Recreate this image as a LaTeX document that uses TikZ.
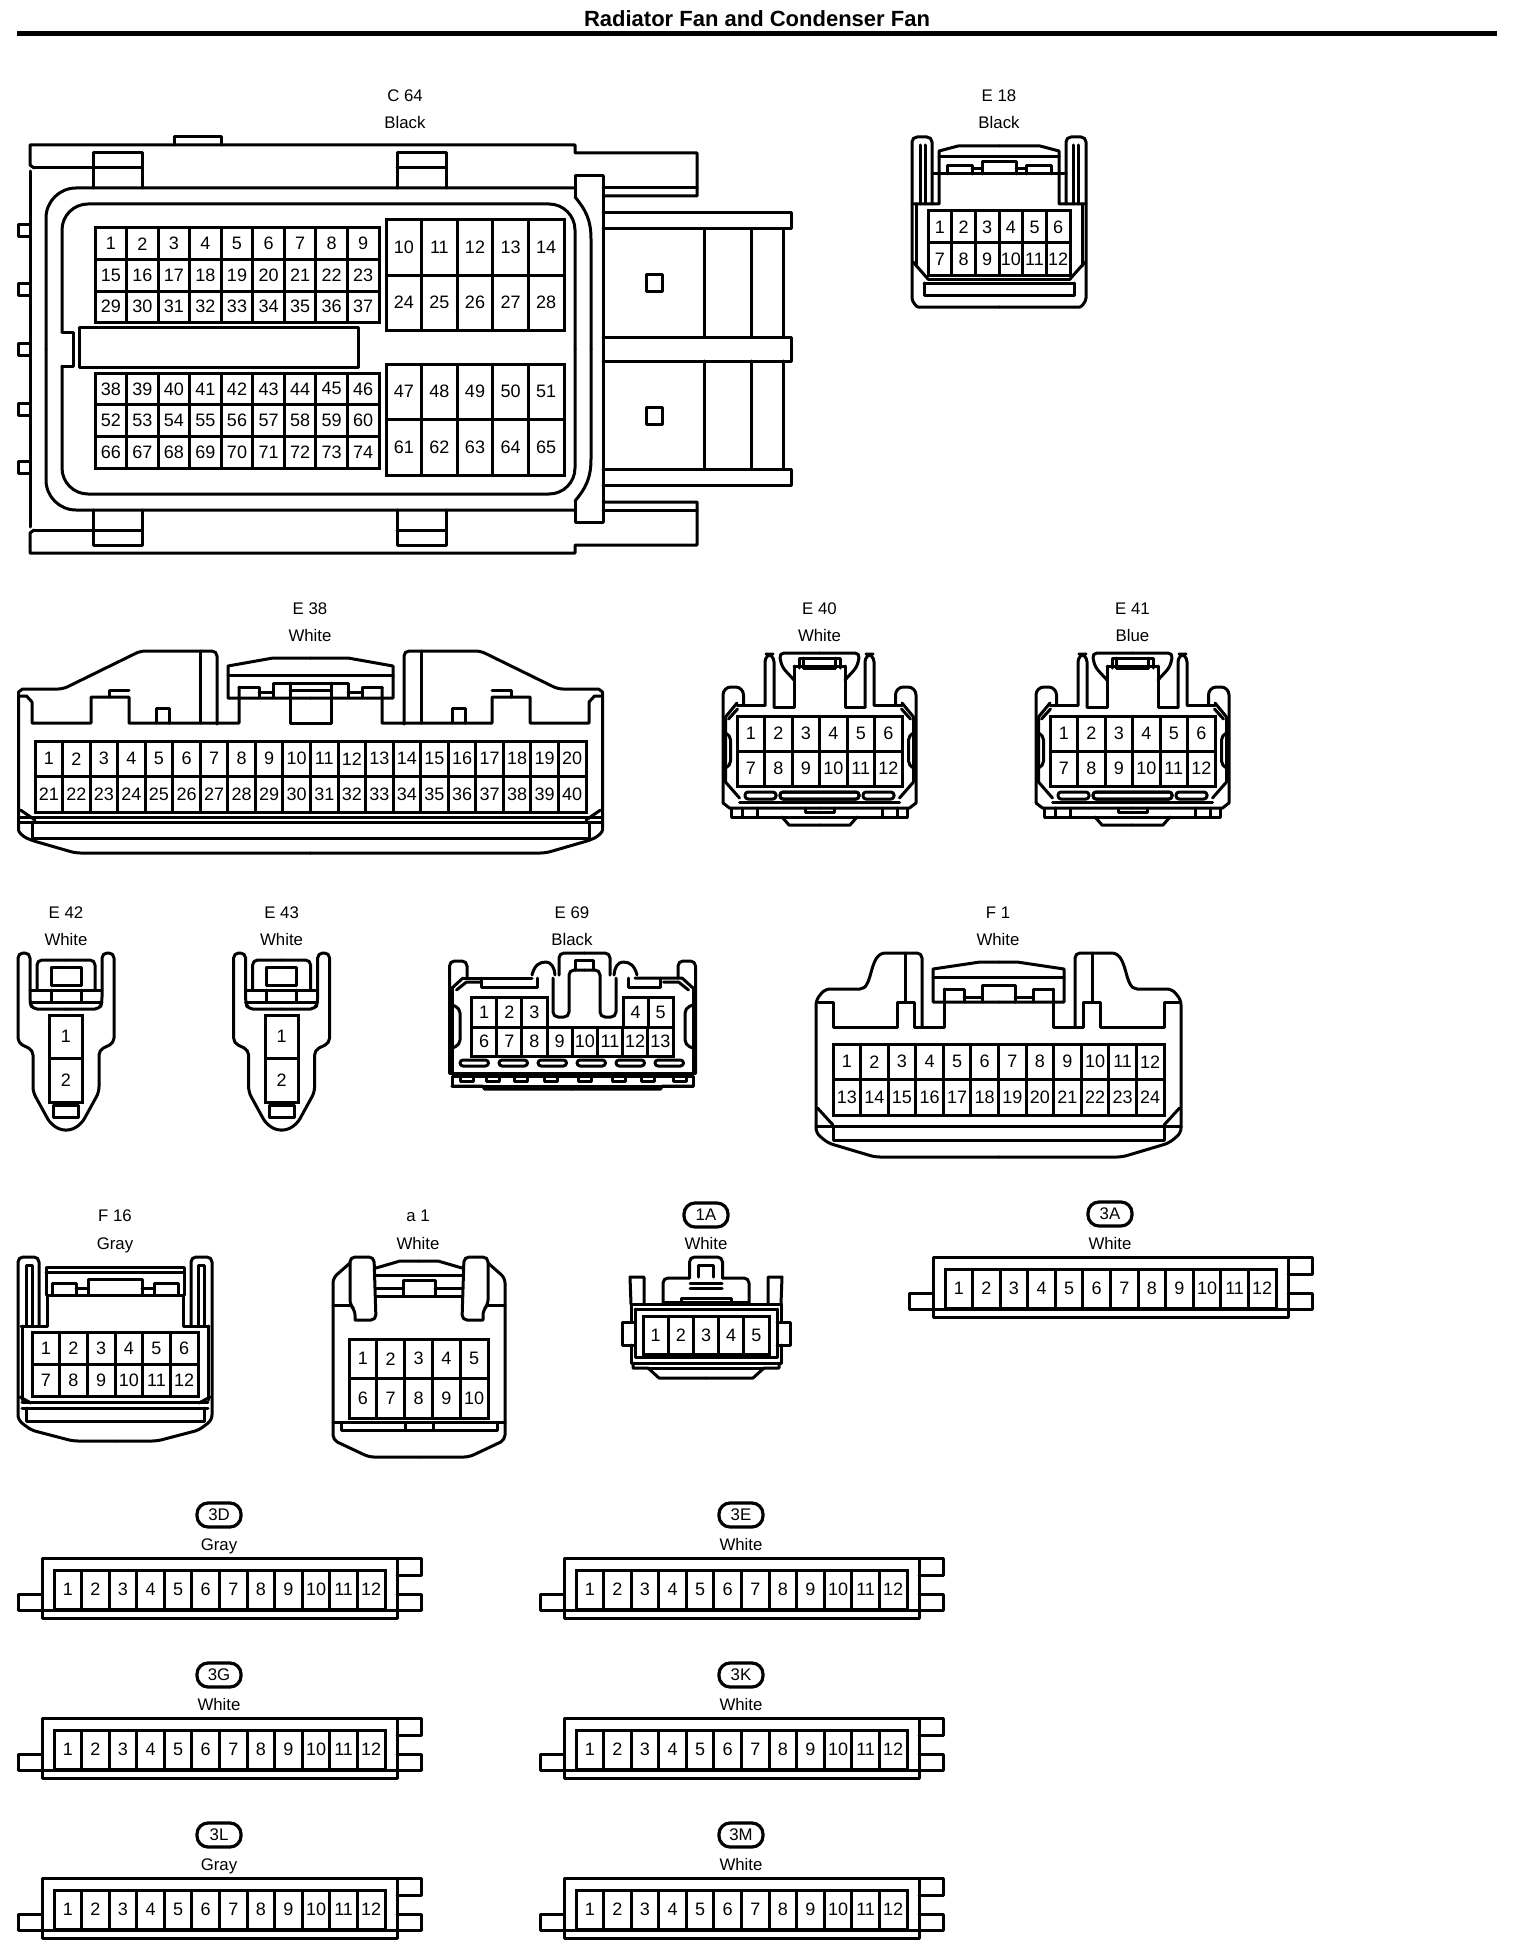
\documentclass[tikz,border=0pt]{standalone}
\usepackage{fontspec}
\setmainfont{Liberation Sans}
\tikzset{
    conn/.style={line width=1.5pt, line join=round, line cap=round},
    soft/.style={conn, rounded corners=2.5pt},
    pinline/.style={line width=1.5pt},
    pinnum/.style={inner sep=0pt, font=\fontsize{9}{11}\selectfont},
    conntext/.style={inner sep=0pt, text height=6.2pt, text depth=0pt, font=\fontsize{8.4}{10}\selectfont},
    tagoval/.style={draw, line width=1.6pt, rounded corners=5.5pt, inner sep=0pt, minimum width=22pt, minimum height=12pt, font=\fontsize{8.4}{10}\selectfont},
    slotbox/.style={conn, rounded corners=1.5pt}
}
% x0 y0 x1 y1 cols rows first rowstep prefix
\newcommand{\pingrid}[9]{%
    \pgfmathsetmacro{\cellw}{(#3-#1)/#5}%
    \pgfmathsetmacro{\cellh}{(#4-#2)/#6}%
    \foreach \cc in {1,...,#5}{%
        \foreach \rr in {1,...,#6}{%
            \pgfmathtruncatemacro{\pinno}{#7+(\rr-1)*#8+\cc-1}%
            \draw[pinline] ({#1+(\cc-1)*\cellw},{#2+(\rr-1)*\cellh}) rectangle ({#1+\cc*\cellw},{#2+\rr*\cellh});
            \node[pinnum] (#9-\pinno) at ({#1+(\cc-.5)*\cellw},{#2+(\rr-.5)*\cellh}) {\pinno};
        }%
    }%
}
\begin{document}
\begin{tikzpicture}[x=0.5pt,y=-0.5pt]
    \useasboundingbox (0,0) rectangle (1520,1958);
    % Title
    \node[inner sep=0pt, font=\fontsize{11}{13}\selectfont\bfseries] (title) at (757,19) {Radiator Fan and Condenser Fan};
    \draw[line width=2.5pt] (17,34) -- (1497,34);

    % C 64
    \node[conntext] (c64-name) at (405,95) {C 64};
    \node[conntext] (c64-color) at (405,122) {Black};
    \foreach \m in {1,-1}{
        \begin{scope}[shift={(0,349)},yscale=\m]
            \draw[conn] (34,-181) -- (30,-184) -- (30,-204) -- (575,-204) -- (575,-196) -- (697,-196) -- (697,-153) -- (603,-153);
            \draw[conn] (30,-178) -- (30,0);
            \draw[conn] (34,-181) -- (93,-181);
            \draw[conn] (603,-161) -- (697,-161);
            \draw[conn] (93,-161) -- (93,-196) -- (142,-196) -- (142,-161);
            \draw[conn] (93,-181) -- (142,-181);
            \draw[conn] (397,-161) -- (397,-196) -- (446,-196) -- (446,-161);
            \draw[conn] (397,-181) -- (446,-181);
            % post and housing
            \draw[conn] (603,-173) -- (575,-173) -- (575,-152);
            \draw[conn] (603,-173) -- (603,0);
            \draw[conn, rounded corners=15pt] (46,0) -- (46,-161) -- (575,-161);
            \draw[conn] (575,-152) .. controls (585,-140) and (591,-130) .. (591,-110) -- (591,0);
            \draw[conn, rounded corners=13pt] (62,-17) -- (62,-145) -- (575,-145) -- (575,0);
            \draw[conn] (62,-17) -- (73,-17) -- (73,0);
            % slide arms
            \draw[conn] (603,-136) -- (791,-136) -- (791,-120) -- (603,-120);
            \draw[conn] (603,-12) -- (791,-12) -- (791,0);
            \foreach \x in {704,751.5,783}{
                \draw[conn] (\x,-120) -- (\x,-12);
            }
            \draw[conn] (646,-75) rectangle (662,-58);
            % pegs
            \draw[conn] (30,-124) -- (18,-124) -- (18,-112) -- (30,-112);
            \draw[conn] (30,-66) -- (18,-66) -- (18,-54) -- (30,-54);
            \draw[conn] (30,-6) -- (18,-6) -- (18,0);
        \end{scope}
    }
    \draw[conn] (174,145) -- (174,137) -- (221,137) -- (221,145);
    \draw[conn] (79.5,327) rectangle (358,367);
    \pingrid{95}{228}{379}{322.5}{9}{3}{1}{14}{c64}
    \pingrid{386}{220}{564}{330}{5}{2}{10}{14}{c64}
    \pingrid{95}{373}{379}{468}{9}{3}{38}{14}{c64}
    \pingrid{386}{364}{564}{475}{5}{2}{47}{14}{c64}

    % E 18
    \node[conntext] (e18-name) at (999,95) {E 18};
    \node[conntext] (e18-color) at (999,122) {Black};
    \foreach \m in {1,-1}{
        \begin{scope}[shift={(999,0)},xscale=\m]
            \draw[soft] (-67,204) -- (-67,137) -- (-87,137) -- (-87,293) .. controls (-87,302) and (-82,307) .. (-76,307) -- (0,307);
            \draw[conn] (-79,145) -- (-79,204);
            \draw[conn] (-74,145) -- (-74,204);
            \draw[conn] (-83,204) -- (-83,266);
            \draw[conn] (-87,204) -- (-60,204) -- (-60,151) -- (-41,146) -- (0,146);
            \draw[conn] (-60,157) -- (0,157);
            \draw[conn] (-67,174) -- (0,174);
            \draw[conn] (-52,174) -- (-52,166) -- (-27,166) -- (-27,174);
            \draw[conn] (-17,174) -- (-17,162) -- (0,162);
            \draw[conn] (-27,169) -- (-17,169);
            \draw[conn] (-71,279) -- (0,279);
            \draw[conn] (-75,283) -- (-75,295) -- (0,295);
            \draw[conn] (-75,283) -- (0,283);
            \draw[conn] (-86,262) -- (-71,279);
        \end{scope}
    }
    \pingrid{928}{211}{1070}{275}{6}{2}{1}{6}{e18}

    % E 38
    \node[conntext] (e38-name) at (310,608) {E 38};
    \node[conntext] (e38-color) at (310,635) {White};
    \foreach \m in {1,-1}{
        \begin{scope}[shift={(310.5,0)},xscale=\m]
            \draw[soft] (0,853) -- (-235,853) -- (-280,840) .. controls (-288,836) and (-292,832) .. (-292,825) -- (-292,697) .. controls (-292,692) and (-288,689) .. (-283,689) -- (-247.5,689) -- (-170,651) -- (-93.5,651) -- (-93.5,724);
            \draw[conn] (-110.5,651) -- (-110.5,723);
            \draw[conn] (-290,696) -- (-284,696) -- (-278.5,702) -- (-278.5,723) -- (-219.5,723) -- (-219.5,697) -- (-181.5,697) -- (-181.5,723) -- (-71.5,723) -- (-71.5,687);
            \draw[conn] (-201,697) -- (-201,690) -- (-181.5,690);
            \draw[conn] (-154.5,723) -- (-154.5,708) -- (-141.5,708) -- (-141.5,723);
            % latch
            \draw[conn] (0,658) -- (-37.5,658) -- (-82.5,666) -- (-82.5,698) -- (0,698);
            \draw[conn] (-82.5,675) -- (0,675);
            \draw[conn] (-71.5,687) -- (-51.5,687) -- (-51.5,697);
            \draw[conn] (-37.5,697) -- (-37.5,683) -- (0,683);
            \draw[conn] (-51.5,692) -- (-37.5,692);
            \draw[conn] (-20.5,683) -- (-20.5,723) -- (0,723);
            \draw[conn] (-20.5,690) -- (0,690);
            % lower edge
            \draw[conn] (-292,817) -- (0,817);
            \draw[conn] (-292,822) -- (0,822);
            \draw[conn] (-278.5,822) -- (-278.5,838) -- (0,838);
            \draw[conn] (-290,810) -- (-275.5,820);
        \end{scope}
    }
    \pingrid{35}{741}{586}{812}{20}{2}{1}{20}{e38}

    % E 40, E 41
    \foreach \xc/\nm/\colname/\pref in {819.5/E 40/White/e40, 1132.5/E 41/Blue/e41}{
        \begin{scope}[shift={(\xc,0)}]
            \node[conntext] (\pref-name) at (0,608) {\nm};
            \node[conntext] (\pref-color) at (0,635) {\colname};
            \foreach \m in {1,-1}{
                \begin{scope}[xscale=\m]
                    \draw[soft] (0,653) -- (-40.5,653) -- (-37.5,667) -- (-25.5,680);
                    \draw[conn] (-25.5,666) -- (0,666);
                    \draw[conn] (-25.5,666) -- (-25.5,707) -- (-45.5,707);
                    \draw[conn, rounded corners=4pt] (-45.5,707) -- (-45.5,654) -- (-54.5,654) -- (-54.5,705);
                    \draw[conn] (-54.5,705) -- (-82.5,705);
                    \draw[conn] (-20.5,668) -- (-20.5,658) -- (0,658);
                    \draw[conn] (-16,658) -- (-16,668) -- (0,668);
                    \draw[conn, rounded corners=4pt] (-76,705) -- (-76,687) -- (-96.5,687) -- (-96.5,803);
                    \draw[conn] (-82.5,703) -- (-94,717) -- (-94,782) -- (-80,798);
                    \draw[conn] (-82,709) -- (-91,719);
                    \draw[soft] (-94,733) -- (-89,735) -- (-89,766) -- (-94,768);
                    \draw[slotbox] (-74.5,792) rectangle (-43.5,799);
                    \draw[slotbox] (-39.5,792) rectangle (39.5,799);
                    \draw[conn] (-80,802) -- (0,802);
                    \draw[conn] (-96.5,803) -- (-90,808) -- (0,808);
                    \draw[conn] (-88,808) -- (-88,817) -- (0,817);
                    \draw[conn] (-37.5,817) -- (-30.5,825) -- (0,825);
                    \foreach \x in {-77.5,-62.5}{
                        \draw[conn] (\x,808) -- (\x,817);
                    }
                    \draw[conn] (-14.5,808) -- (-14.5,812) -- (0,812);
                \end{scope}
            }
            \pingrid{-82.5}{716}{82.5}{786}{6}{2}{1}{6}{\pref}
        \end{scope}
    }

    % E 42, E 43
    \foreach \xc/\nm/\pref in {66/E 42/e42, 281.6/E 43/e43}{
        \begin{scope}[shift={(\xc,0)}]
            \node[conntext] (\pref-name) at (0,912) {\nm};
            \node[conntext] (\pref-color) at (0,939) {White};
            \foreach \m in {1,-1}{
                \begin{scope}[xscale=\m]
                    \draw[soft] (0,1130) -- (-6,1130) -- (-16,1123) -- (-33,1092) -- (-33,1050) -- (-48,1043) -- (-48,953) -- (-36,953) -- (-36,1002) -- (-34,1009) -- (0,1009);
                    \draw[conn] (-36,1002) -- (0,1002);
                    \draw[soft] (-29,990) -- (-29,960) -- (0,960);
                    \draw[conn] (-36,990) -- (0,990);
                    \draw[conn] (-15,990) -- (-15,1001);
                    \draw[conn] (-15,967) rectangle (15,985);
                    \draw[conn] (-12.5,1105) rectangle (12.5,1117);
                \end{scope}
            }
            \pingrid{-16.5}{1015}{16.5}{1102}{1}{2}{1}{1}{\pref}
        \end{scope}
    }

    % E 69
    \node[conntext] (e69-name) at (572,912) {E 69};
    \node[conntext] (e69-color) at (572,939) {Black};
    \foreach \m in {1,-1}{
        \begin{scope}[shift={(572.5,0)},xscale=\m]
            \draw[soft] (-105.5,978) -- (-105.5,961) -- (-123,961) -- (-123,1073);
            \draw[conn] (-120.5,988) -- (-120.5,1073);
            \draw[conn] (-116,990) -- (-106,982) -- (-91,982);
            \draw[soft] (-120.5,1005) -- (-112.5,1008) -- (-112.5,1045) -- (-120.5,1048);
            \draw[conn] (-123,1073) -- (0,1073);
            \draw[conn] (-120.5,1086) -- (-120.5,1076) -- (0,1076);
            \draw[conn] (-120.5,1086) -- (-90,1086) -- (-88,1089) -- (0,1089);
            \draw[conn] (-120.5,1086) -- (0,1086);
        \end{scope}
        \begin{scope}[shift={(584.5,0)},xscale=\m]
            \draw[soft] (-25.5,975) -- (-25.5,953) -- (0,953);
            \draw[soft] (-31.5,978) -- (-31.5,1017) -- (-15.5,1017) -- (-15.5,970) -- (0,970);
            \draw[conn] (-9,970) -- (-9,960) -- (0,960);
            \draw[conn] (-52.5,975) .. controls (-50,965) and (-45,962) .. (-38.5,962) .. controls (-33,962) and (-30,968) .. (-29.5,975);
        \end{scope}
    }
    \draw[conn] (463,978) -- (452,988);
    \draw[conn] (463,978) -- (532,978);
    \draw[conn] (635,978) -- (682,978) -- (693,988);
    \draw[conn] (481,978) -- (481,987) -- (537,987) -- (537,978);
    \draw[conn] (628,978) -- (628,987) -- (660,987) -- (660,978);
    \foreach \x in {460,499,538,577,616,655}{
        \draw[slotbox] (\x,1060) rectangle (\x+28.5,1066);
    }
    \foreach \x in {460,486,514,544.5,578,612,641,673}{
        \draw[conn] (\x,1076) -- (\x,1081) -- (\x+13,1081) -- (\x+13,1076);
    }
    \pingrid{471.5}{997}{547}{1027}{3}{1}{1}{5}{e69}
    \pingrid{623}{997}{673}{1027}{2}{1}{4}{5}{e69}
    \pingrid{471.5}{1027}{673}{1056}{8}{1}{6}{8}{e69}

    % F 1
    \node[conntext] (f1-name) at (998,912) {F 1};
    \node[conntext] (f1-color) at (998,939) {White};
    \foreach \m in {1,-1}{
        \begin{scope}[shift={(998.5,0)},xscale=\m]
            \draw[soft] (0,1157) -- (-123.5,1157) -- (-170.5,1143) -- (-182.5,1133) -- (-182.5,1000) -- (-173.5,989) -- (-143.5,989) .. controls (-125,989) and (-130,953) .. (-108,953) -- (-76.5,953) -- (-76.5,1027);
            \draw[conn] (-93.5,953) -- (-93.5,1002);
            \draw[conn] (-180,1002) -- (-165.5,1002) -- (-165.5,1027) -- (-101.5,1027) -- (-101.5,1002) -- (-84.5,1002) -- (-84.5,1027) -- (-54.5,1027) -- (-54.5,989);
            \draw[conn] (0,962) -- (-18.5,962) -- (-65.5,969) -- (-65.5,1002) -- (0,1002);
            \draw[conn] (-65.5,977) -- (0,977);
            \draw[conn] (-54.5,989) -- (-34.5,989) -- (-34.5,1002);
            \draw[conn] (-16.5,1002) -- (-16.5,985) -- (0,985);
            \draw[conn] (-34.5,997) -- (-16.5,997);
            \draw[conn] (-182.5,1126) -- (0,1126);
            \draw[conn] (-165.5,1126) -- (-165.5,1140) -- (0,1140);
            \draw[conn] (-181,1108) -- (-165.5,1125);
        \end{scope}
    }
    \pingrid{833}{1044}{1164}{1115}{12}{2}{1}{12}{f1}

    % F 16
    \node[conntext] (f16-name) at (115,1215) {F 16};
    \node[conntext] (f16-color) at (115,1243) {Gray};
    \foreach \m in {1,-1}{
        \begin{scope}[shift={(115,0)},xscale=\m]
            \draw[soft] (0,1441) -- (-42,1441) -- (-84,1430) -- (-97,1420) -- (-97,1257) -- (-76,1257) -- (-76,1326);
            \draw[conn] (-83,1326) -- (-83,1265) -- (-89,1265) -- (-89,1326);
            \draw[conn] (-94,1326) -- (-68,1326) -- (-68,1295) -- (0,1295);
            \draw[conn] (-69,1295) -- (-69,1267) -- (0,1267);
            \draw[conn] (-69,1272) -- (0,1272);
            \draw[conn] (-63,1295) -- (-63,1283) -- (-39,1283) -- (-39,1295);
            \draw[conn] (-27,1295) -- (-27,1279) -- (0,1279);
            \draw[conn] (-39,1288) -- (-27,1288);
            \draw[conn] (-93,1326) -- (-93,1400);
            \draw[conn] (-93,1402) -- (0,1402);
            \draw[conn] (-93,1408) -- (0,1408);
            \draw[conn] (-89,1408) -- (-89,1421) -- (0,1421);
            \draw[conn] (-95,1397) -- (-84,1403);
        \end{scope}
    }
    \pingrid{32}{1332}{198}{1396}{6}{2}{1}{6}{f16}

    % a 1
    \node[conntext] (a1-name) at (418,1215) {a 1};
    \node[conntext] (a1-color) at (418,1243) {White};
    \foreach \m in {1,-1}{
        \begin{scope}[shift={(419,0)},xscale=\m]
            \draw[soft] (0,1457) -- (-50,1457) -- (-86,1440) -- (-86,1278) -- (-69,1263);
            \draw[soft] (-64,1320) -- (-64,1310) -- (-69,1305) -- (-69,1257) -- (-45,1257) -- (-43,1320) -- (-64,1320);
            \draw[conn] (-86,1305) -- (-69,1305);
            \draw[conn] (0,1261) -- (-19,1261) -- (-43,1268);
            \draw[conn] (-43,1275) -- (0,1275);
            \draw[conn] (-43,1296) -- (0,1296);
            \draw[conn] (-16,1296) -- (-16,1280) -- (0,1280);
            \draw[conn] (-43,1288) -- (-16,1288);
            \draw[conn] (-86,1422) -- (0,1422);
            \draw[conn] (-78,1423) -- (-78,1430) -- (0,1430);
            \draw[conn] (-14,1423) -- (-14,1429);
        \end{scope}
    }
    \pingrid{349}{1339}{488}{1418}{5}{2}{1}{5}{a1}

    % 1A
    \node[tagoval] (t1a-tag) at (706,1215) {1A};
    \node[conntext] (t1a-color) at (706,1243) {White};
    \foreach \m in {1,-1}{
        \begin{scope}[shift={(706,0)},xscale=\m]
            \draw[soft] (-16.5,1278) -- (-16.5,1257) -- (0,1257);
            \draw[conn] (-7.5,1277) -- (-7.5,1265) -- (0,1265);
            \draw[conn] (-16,1283) -- (0,1283);
            \draw[conn] (-16,1288) -- (0,1288);
            \draw[soft] (-43,1302) -- (-43,1278) -- (-16.5,1278);
            \draw[conn] (-25,1302) -- (-25,1298) -- (0,1298);
            \draw[conn] (-43,1302) -- (0,1302);
            \draw[conn] (-75,1304) -- (-76,1277) -- (-62,1277) -- (-62,1304);
            \draw[conn] (-75,1304) -- (0,1304);
            \draw[conn] (-75,1304) -- (-75,1322);
            \draw[conn] (-71,1322) -- (-84,1322) -- (-84,1345) -- (-71,1345);
            \draw[conn] (-71,1309) -- (-71,1357) -- (0,1357);
            \draw[conn] (-71,1309) -- (0,1309);
            \draw[conn] (-75,1345) -- (-75,1363) -- (0,1363);
            \draw[conn] (-73,1363) -- (-73,1368) -- (-58,1368) -- (-47,1378) -- (0,1378);
            \draw[conn] (-58,1368) -- (0,1368);
        \end{scope}
    }
    \pingrid{643}{1316}{769}{1354}{5}{1}{1}{5}{t1a}

    % 12 pin strips
    \foreach \x/\y/\tagname/\colname/\pref in {933/1257/3A/White/t3a, 42/1558/3D/Gray/t3d, 564/1558/3E/White/t3e, 42/1718/3G/White/t3g, 564/1718/3K/White/t3k, 42/1878/3L/Gray/t3l, 564/1878/3M/White/t3m}{
        \begin{scope}[shift={(\x,\y)}]
            \node[tagoval] (\pref-tag) at (177,-43) {\tagname};
            \node[conntext] (\pref-color) at (177,-14) {\colname};
            \draw[conn] (0,0) rectangle (355,60);
            \draw[conn] (0,52) -- (355,52);
            \draw[conn] (0,36) -- (-24,36) -- (-24,52) -- (0,52);
            \draw[conn] (355,0) -- (379,0) -- (379,17) -- (355,17);
            \draw[conn] (355,36) -- (379,36) -- (379,52) -- (355,52);
            \pingrid{12}{12}{343}{51}{12}{1}{1}{12}{\pref}
        \end{scope}
    }
\end{tikzpicture}
\end{document}
